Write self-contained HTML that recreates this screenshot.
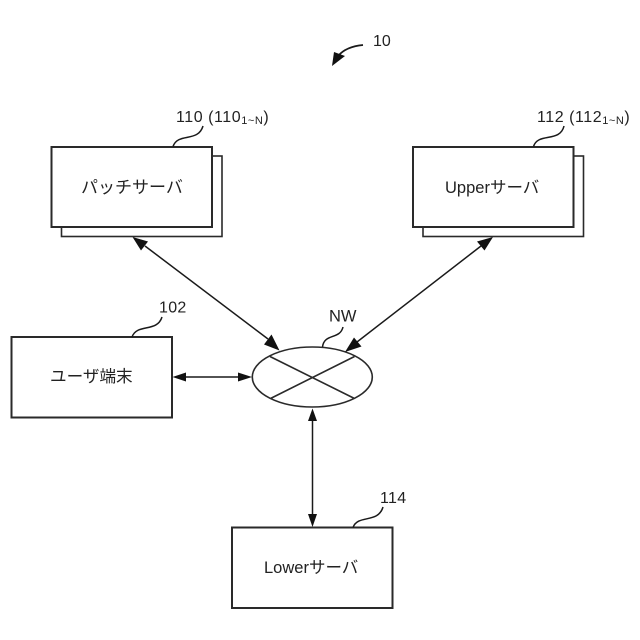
<!DOCTYPE html>
<html><head><meta charset="utf-8">
<style>
html,body{margin:0;padding:0;background:#fff}
svg{display:block;filter:blur(.35px)}
text{font-family:"Liberation Sans","Noto Sans CJK JP",sans-serif;fill:#222}
</style></head><body>
<svg width="640" height="640" viewBox="0 0 640 640" xmlns="http://www.w3.org/2000/svg">
<rect width="640" height="640" fill="#fff"/>
<g fill="#fff" stroke="#2a2a2a" stroke-width="1.6">
<rect x="61.5" y="156" width="160.5" height="80.5"/>
<rect x="51.500" y="147" width="160.500" height="80" stroke-width="2"/>
<rect x="423" y="156" width="160.500" height="80.500"/>
<rect x="413" y="147" width="160.500" height="80" stroke-width="2"/>
<rect x="11.500" y="337" width="160.500" height="80.500" stroke-width="2"/>
<rect x="232" y="527.500" width="160.500" height="80.500" stroke-width="2"/>
<ellipse cx="312.300" cy="377" rx="60" ry="30"/>
<path d="M270 356.500L354.500 398.500M354.500 356.500L270.500 398.500"/>
</g>
<g fill="none" stroke="#1a1a1a" stroke-width="1.500">
<path d="M145 246L268 339"/>
<path d="M481 246L357 342"/>
<path d="M186 377H238"/>
<path d="M312.500 420V515"/>
<path d="M173 146.500C178 132 198 143 203 126"/>
<path d="M533.500 146.500C538 132 560 143 564 126"/>
<path d="M132 337C137 323 157 333 162 317"/>
<path d="M353 527.500C358 514 378 524 383 507"/>
<path d="M322.500 347C324 333 340 340 343 327"/>
<path d="M363 45C352 46 344 49 338 56" stroke-width="1.800"/>
</g>
<g fill="#111" stroke="none">
<path d="M132.500 237L148 241.500L141 250.500Z"/>
<path d="M279.500 350.500L264 344.500L271.500 334.500Z"/>
<path d="M493 237L484.500 250.500L477 241.500Z"/>
<path d="M345 352L354 337.500L361.500 346.500Z"/>
<path d="M172.500 377L186 372.500V381.500Z"/>
<path d="M252 377L238 372.500V381.500Z"/>
<path d="M312.500 408.500L308 421H317Z"/>
<path d="M312.500 527L308 514H317Z"/>
<path d="M332 66L334 52L345 56Z"/>
</g>
<g font-size="16">
<text x="373" y="46">10</text>
<text x="176" y="122" letter-spacing=".55">110 (110<tspan font-size="11" dy="2">1~N</tspan><tspan dy="-2">)</tspan></text>
<text x="537" y="122" letter-spacing=".55">112 (112<tspan font-size="11" dy="2">1~N</tspan><tspan dy="-2">)</tspan></text>
<text x="159" y="312.500" letter-spacing=".3">102</text>
<text x="329" y="321.500" font-size="16.500">NW</text>
<text x="380" y="503" letter-spacing=".3">114</text>
<text x="81" y="193" font-size="17">パッチサーバ</text>
<text x="445" y="193" font-size="16.500">Upperサーバ</text>
<text x="50" y="382" font-size="16.600">ユーザ端末</text>
<text x="264" y="573" font-size="16.500">Lowerサーバ</text>
</g>
</svg>
</body></html>
